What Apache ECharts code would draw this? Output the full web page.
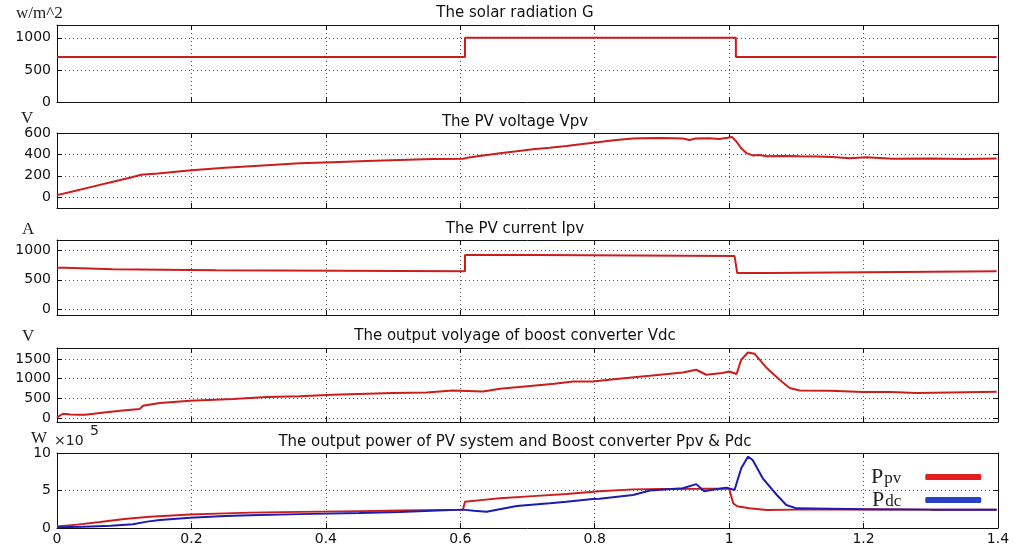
<!DOCTYPE html>
<html>
<head>
<meta charset="utf-8">
<script src="https://cdn.jsdelivr.net/npm/echarts@6/dist/echarts.min.js"></script>
<style>
html,body{margin:0;padding:0;background:#fff;}
#c{width:1015px;height:548px;}
</style>
</head>
<body>
<div id="c"></div>
<script>
// ---- data (time in s) ----
const gT   = [0, 0.607, 0.607, 1.01, 1.01, 1.398];
const gV   = [700, 700, 1000, 1000, 700, 700];

const vpvT = [0, 0.02, 0.05, 0.08, 0.11, 0.125, 0.15, 0.2, 0.25, 0.3, 0.361, 0.42, 0.461, 0.51, 0.559, 0.604, 0.61, 0.634, 0.659, 0.684, 0.708, 0.733, 0.758, 0.782, 0.807, 0.832, 0.857, 0.871, 0.9, 0.931, 0.941, 0.95, 0.97, 0.985, 0.998, 1.004, 1.011, 1.018, 1.026, 1.035, 1.045, 1.056, 1.08, 1.105, 1.13, 1.154, 1.179, 1.204, 1.243, 1.3, 1.35, 1.398];
const vpvV = [20, 50, 95, 140, 185, 210, 222, 252, 275, 295, 318, 330, 338, 348, 357, 360, 368, 390, 412, 430, 448, 463, 479, 498, 515, 535, 548, 550, 553, 548, 535, 548, 552, 545, 555, 564, 518, 457, 412, 391, 395, 382, 385, 382, 380, 376, 365, 373, 360, 362, 358, 362];

const ipvT = [0, 0.012, 0.012, 0.083, 0.083, 0.236, 0.236, 0.607, 0.607, 0.714, 0.714, 1.008, 1.012, 1.06, 1.06, 1.398];
const ipvV = [705, 705, 680, 680, 662, 662, 648, 648, 925, 925, 908, 908, 615, 615, 648, 648];

const vdcT = [0, 0.009, 0.02, 0.034, 0.042, 0.064, 0.094, 0.123, 0.128, 0.153, 0.198, 0.262, 0.312, 0.361, 0.41, 0.461, 0.5, 0.55, 0.589, 0.61, 0.634, 0.659, 0.708, 0.74, 0.768, 0.797, 0.832, 0.882, 0.931, 0.951, 0.966, 0.99, 1.0, 1.011, 1.018, 1.028, 1.038, 1.056, 1.075, 1.09, 1.105, 1.15, 1.2, 1.24, 1.279, 1.33, 1.398];
const vdcV = [15, 110, 90, 85, 85, 127, 185, 228, 312, 380, 440, 482, 533, 555, 590, 617, 635, 650, 701, 690, 676, 744, 820, 870, 930, 930, 990, 1074, 1158, 1227, 1100, 1143, 1184, 1118, 1481, 1666, 1633, 1270, 973, 762, 701, 693, 660, 665, 635, 650, 668];

// power in units of 1e5 W
const ppvT = [0, 0.03, 0.064, 0.1, 0.138, 0.198, 0.25, 0.287, 0.361, 0.45, 0.51, 0.604, 0.607, 0.634, 0.659, 0.708, 0.758, 0.807, 0.857, 0.9, 0.956, 1.0, 1.006, 1.012, 1.03, 1.056, 1.1, 1.2, 1.3, 1.398];
const ppvV = [0.2, 0.45, 0.8, 1.2, 1.5, 1.8, 1.95, 2.05, 2.15, 2.25, 2.32, 2.45, 3.5, 3.75, 3.96, 4.25, 4.53, 4.9, 5.15, 5.2, 5.22, 5.25, 3.3, 2.9, 2.62, 2.4, 2.45, 2.5, 2.45, 2.45];

const pdcT = [0, 0.039, 0.08, 0.113, 0.134, 0.153, 0.198, 0.25, 0.287, 0.361, 0.45, 0.51, 0.604, 0.62, 0.639, 0.684, 0.733, 0.758, 0.797, 0.807, 0.857, 0.882, 0.931, 0.951, 0.963, 0.975, 0.996, 1.008, 1.018, 1.028, 1.035, 1.05, 1.071, 1.085, 1.1, 1.2, 1.3, 1.398];
const pdcV = [0.1, 0.18, 0.3, 0.49, 0.85, 1.07, 1.38, 1.6, 1.7, 1.85, 2.0, 2.13, 2.45, 2.3, 2.18, 2.93, 3.29, 3.5, 3.87, 3.9, 4.4, 5.0, 5.29, 5.85, 4.9, 5.1, 5.38, 5.07, 7.96, 9.51, 9.07, 6.62, 4.4, 3.07, 2.62, 2.5, 2.45, 2.45];

// ticks
const gTicks   = [0, 500, 1000];
const vpvTicks = [0, 200, 400, 600];
const ipvTicks = [0, 500, 1000];
const vdcTicks = [0, 500, 1000, 1500];
const pTicks   = [0, 5, 10];

const titles = [
  'The solar radiation G',
  'The PV voltage Vpv',
  'The PV current Ipv',
  'The output volyage of boost converter Vdc',
  'The output power of PV system and Boost converter Ppv & Pdc'
];

// ---- layout ----
const panels = [
  {top: 25,  h: 77, min: 0,    max: 1200, ticks: gTicks,   titleTop: 6},
  {top: 133, h: 75, min: -100, max: 600,  ticks: vpvTicks, titleTop: 115},
  {top: 240, h: 75, min: -100, max: 1180, ticks: ipvTicks, titleTop: 222},
  {top: 348, h: 74, min: -100, max: 1780, ticks: vdcTicks, titleTop: 329},
  {top: 453, h: 75, min: 0,    max: 10,   ticks: pTicks,   titleTop: 435}
];

const zip = (t, v) => t.map((x, i) => [x, v[i]]);
const FONT = 'DejaVu Sans';
const RED = '#cc1d1d', BLUE = '#1c1cb4';
const dotted = {show: true, lineStyle: {color: '#555', type: [1, 3], width: 1}};
const plain = v => String(+v.toFixed(4));

const grid = [], xAxis = [], yAxis = [], title = [];
panels.forEach((p, i) => {
  grid.push({left: 57, right: 17, top: p.top, height: p.h, containLabel: false});
  const last = i === panels.length - 1;
  xAxis.push({
    type: 'value', gridIndex: i, min: 0, max: 1.4, interval: 0.2, position: 'bottom',
    axisLine: {show: true, onZero: false, lineStyle: {color: '#111', width: 1}},
    axisTick: {show: true, inside: true, length: 5, lineStyle: {color: '#111'}},
    axisLabel: {show: last, color: '#111', fontFamily: FONT, fontSize: 14, margin: 4, formatter: plain},
    splitLine: dotted
  });
  xAxis.push({
    type: 'value', gridIndex: i, min: 0, max: 1.4, interval: 0.2, position: 'top',
    axisLine: {show: true, onZero: false, lineStyle: {color: '#111', width: 1}},
    axisTick: {show: true, inside: true, length: 5, lineStyle: {color: '#111'}},
    axisLabel: {show: false}, splitLine: {show: false}
  });
  yAxis.push({
    type: 'value', gridIndex: i, min: p.min, max: p.max, position: 'left',
    axisLine: {show: true, onZero: false, lineStyle: {color: '#111', width: 1}},
    axisTick: {show: true, inside: true, length: 5, customValues: p.ticks, lineStyle: {color: '#111'}},
    axisLabel: {show: true, customValues: p.ticks, color: '#111', fontFamily: FONT, fontSize: 14, margin: 6, formatter: plain},
    splitLine: dotted
  });
  yAxis.push({
    type: 'value', gridIndex: i, min: p.min, max: p.max, position: 'right',
    axisLine: {show: true, onZero: false, lineStyle: {color: '#111', width: 1}},
    axisTick: {show: true, inside: true, length: 5, customValues: p.ticks, lineStyle: {color: '#111'}},
    axisLabel: {show: false}, splitLine: {show: false}
  });
  title.push({
    text: titles[i], left: 515, top: p.titleTop, textAlign: 'center', padding: 0,
    textStyle: {fontFamily: FONT, fontSize: 15, fontWeight: 'normal', color: '#111'}
  });
});

const line = (name, data, gi, color) => ({
  name, type: 'line', data, xAxisIndex: gi * 2, yAxisIndex: gi * 2,
  showSymbol: false, symbol: 'none', animation: false,
  lineStyle: {color, width: 2}, itemStyle: {color}
});

const series = [
  line('G', zip(gT, gV), 0, RED),
  line('Vpv', zip(vpvT, vpvV), 1, RED),
  line('Ipv', zip(ipvT, ipvV), 2, RED),
  line('Vdc', zip(vdcT, vdcV), 3, RED),
  line('Ppv', zip(ppvT, ppvV), 4, RED),
  line('Pdc', zip(pdcT, pdcV), 4, BLUE)
];

const serif = 'Liberation Serif';
const option = {
  animation: false,
  backgroundColor: '#fff',
  title, grid, xAxis, yAxis, series,
  legend: {
    orient: 'vertical', left: 866, top: 461, align: 'right',
    itemWidth: 56, itemHeight: 6, itemGap: 1, icon: 'roundRect',
    data: [
      {name: 'Ppv', itemStyle: {color: '#e21f1f'}},
      {name: 'Pdc', itemStyle: {color: '#2840c8'}}
    ],
    formatter: n => '{p|P}{s|' + n.slice(1) + '}',
    textStyle: {
      rich: {
        p: {fontFamily: serif, fontSize: 22, color: '#222'},
        s: {fontFamily: serif, fontSize: 17, color: '#222', padding: [4, 19, 0, 1]}
      }
    }
  },
  graphic: [
    {type: 'text', left: 16, top: 5, style: {text: 'w/m^2', font: '17px "Liberation Serif"', fill: '#222'}},
    {type: 'text', left: 21, top: 110, style: {text: 'V', font: '17px "Liberation Serif"', fill: '#222'}},
    {type: 'text', left: 22, top: 221, style: {text: 'A', font: '17px "Liberation Serif"', fill: '#222'}},
    {type: 'text', left: 22, top: 328, style: {text: 'V', font: '17px "Liberation Serif"', fill: '#222'}},
    {type: 'text', left: 31, top: 430, style: {text: 'W', font: '17px "Liberation Serif"', fill: '#222'}},
    {type: 'text', left: 54, top: 434, style: {text: '×10', font: '14px "DejaVu Sans"', fill: '#222'}},
    {type: 'text', left: 90, top: 424, style: {text: '5', font: '14px "DejaVu Sans"', fill: '#222'}}
  ]
};

const chart = echarts.init(document.getElementById('c'), null, {renderer: 'canvas'});
chart.setOption(option);
</script>
</body>
</html>
